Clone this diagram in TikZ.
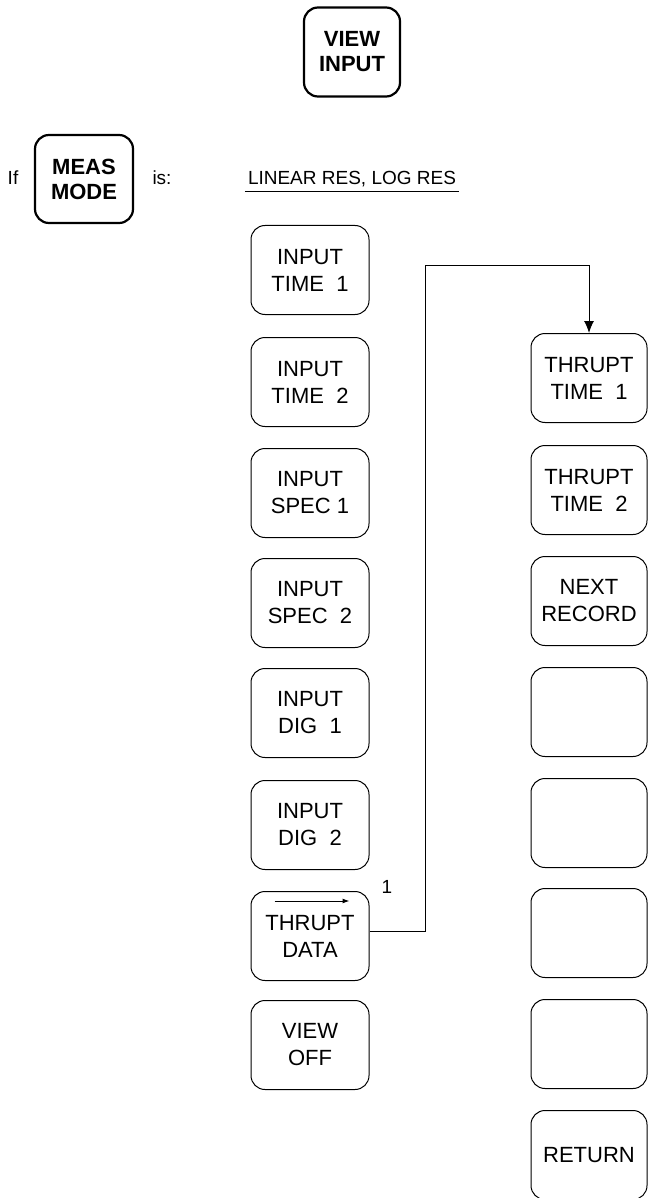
\documentclass[tikz,border=0pt]{standalone}
\usepackage{fontspec}
\setmainfont{Liberation Sans}
\usetikzlibrary{arrows.meta,positioning}
\tikzset{
  hardkey/.style={draw, line width=2.2pt, rounded corners=14pt, align=center, minimum width=96pt, minimum height=89pt, inner sep=0pt, font=\fontsize{22}{25}\selectfont\bfseries},
  softkey/.style={draw, line width=1pt, rounded corners=14pt, align=center, minimum width=118pt, minimum height=89pt, inner sep=0pt, font=\fontsize{22}{27}\selectfont},
  menukey/.style={softkey, minimum width=116pt},
  plotlabel/.style={inner sep=3pt, font=\fontsize{19}{22}\selectfont},
  keymsg/.style={-{Latex[length=12pt,width=10pt]}, line width=1pt},
  keyhint/.style={-{Latex[length=7pt,width=5pt]}, line width=1pt}
}
\begin{document}
\begin{tikzpicture}[x=1pt,y=-1pt]
\useasboundingbox (0,0) rectangle (649,1198);
\clip (0,0) rectangle (649,1198);
\node[hardkey] (viewinput) at (352,52) {VIEW\\INPUT};
\node[hardkey, minimum width=98pt, minimum height=88pt] (measmode) at (84,179) {MEAS\\MODE};
\node[plotlabel, anchor=base] (iflabel) at (13,185) {If};
\node[plotlabel, anchor=base] (islabel) at (162,185) {is:};
\node[plotlabel, anchor=base] (modes) at (352,185) {LINEAR RES, LOG RES};
\draw[line width=1pt] ([yshift=-7pt]modes.base west) -- ([yshift=-7pt]modes.base east);
% left column
\node[softkey] (inputtimeone) at (310,270) {INPUT\\TIME\ \ 1};
\node[softkey] (inputtimetwo) at (310,382) {INPUT\\TIME\ \ 2};
\node[softkey] (inputspecone) at (310,493) {INPUT\\SPEC\ 1};
\node[softkey] (inputspectwo) at (310,603) {INPUT\\SPEC\ \ 2};
\node[softkey] (inputdigone) at (310,713) {INPUT\\DIG\ \ 1};
\node[softkey] (inputdigtwo) at (310,825) {INPUT\\DIG\ \ 2};
\node[softkey] (thrdata) at (310,936) {THRUPT\\DATA};
\node[softkey] (viewoff) at (310,1045) {VIEW\\OFF};
% right column
\node[menukey] (thrtimeone) at (589,378) {THRUPT\\TIME\ \ 1};
\node[menukey] (thrtimetwo) at (589,490) {THRUPT\\TIME\ \ 2};
\node[menukey] (nextrecord) at (589,601) {NEXT\\RECORD};
\node[menukey] (blankone) at (589,712) {};
\node[menukey] (blanktwo) at (589,823) {};
\node[menukey] (blankthree) at (589,933) {};
\node[menukey] (blankfour) at (589,1044) {};
\node[menukey] (returnkey) at (589,1155) {RETURN};
% thrupt data leads to the thrupt menu
\draw[keyhint] ([xshift=24pt,yshift=-10pt]thrdata.north west) -- ([xshift=-20pt,yshift=-10pt]thrdata.north east);
\node[plotlabel] (stepno) at (387,887) {1};
\coordinate (riser) at (425,265);
\draw[keymsg] ([yshift=5pt]thrdata.east) -| (riser) -| (thrtimeone.north);
\end{tikzpicture}
\end{document}
